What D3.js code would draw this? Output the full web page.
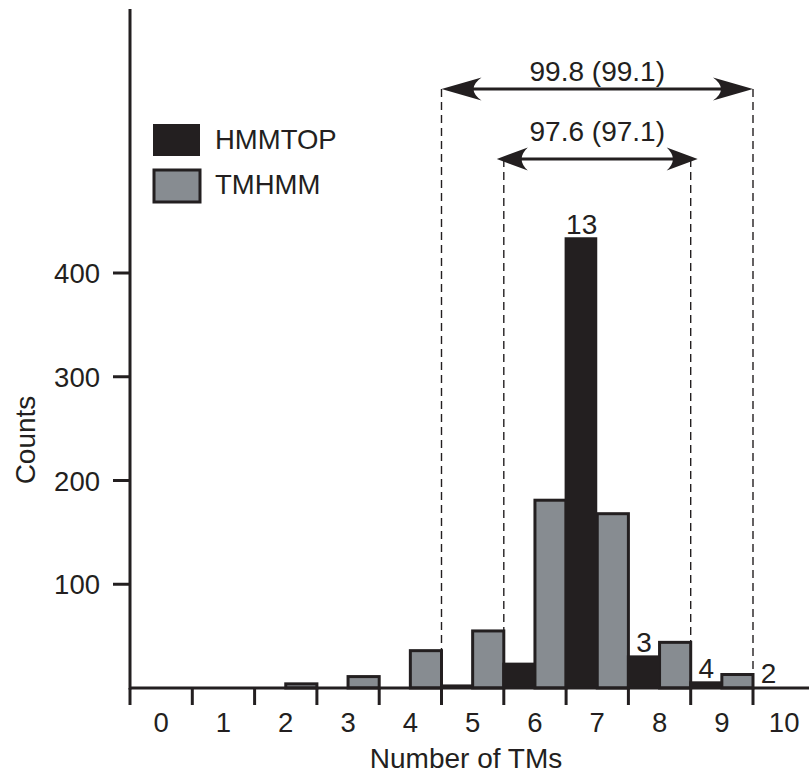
<!DOCTYPE html>
<html>
<head>
<meta charset="utf-8">
<script src="https://cdn.jsdelivr.net/npm/d3@7"></script>
<style>
  html, body { margin: 0; padding: 0; background: #ffffff; }
  svg { display: block; }
  text { font-family: "Liberation Sans", Arial, Helvetica, sans-serif; fill: #231f20; }
</style>
</head>
<body>
<svg id="chart" width="809" height="776"></svg>
<script>
// ---- Data ----
const tmNumbers = [0, 1, 2, 3, 4, 5, 6, 7, 8, 9, 10];
const hmmtopCounts = [0, 0, 0, 0, 0, 2, 23, 433, 30, 5, 0];
const tmhmmCounts = [0, 0, 4, 11, 36, 55, 181, 168, 44, 13, 0];
const yTickValues = [100, 200, 300, 400];
const barNoteTMs = [7, 8, 9, 10];
const barNoteTexts = ["13", "3", "4", "2"];
const rangeFrom = [5, 6];
const rangeTo = [10, 9];
const rangeTexts = ["99.8 (99.1)", "97.6 (97.1)"];
const seriesNames = ["HMMTOP", "TMHMM"];

// ---- Style ----
const ink = "#231f20";
const grayFill = "#878c91";
const fs = 27.5;

const svg = d3.select("#chart");
const x = d3.scaleLinear().domain([0, 11]).range([130, 815.3]);
const y = d3.scaleLinear().domain([0, 400]).range([688, 273]);

// dashed guide lines (drawn first, behind the bars)
const rangeY = [89, 159];
const rangeTextY = [81, 141];
const tipOffset = [0, 7];
const guides = svg.append("g");
rangeFrom.forEach((f, i) => {
  [f, rangeTo[i]].forEach(v => {
    guides.append("line")
      .attr("x1", x(v)).attr("x2", x(v))
      .attr("y1", rangeY[i]).attr("y2", y(0))
      .attr("stroke", ink).attr("stroke-width", 1.4)
      .attr("stroke-dasharray", "8,5");
  });
});

// bars
const bars = svg.append("g");
tmNumbers.forEach((n, i) => {
  if (tmhmmCounts[i] > 0) {
    bars.append("rect")
      .attr("x", x(n + 0.5)).attr("width", x(n + 1) - x(n + 0.5))
      .attr("y", y(tmhmmCounts[i])).attr("height", y(0) - y(tmhmmCounts[i]))
      .attr("fill", grayFill).attr("stroke", ink).attr("stroke-width", 3);
  }
});
tmNumbers.forEach((n, i) => {
  if (hmmtopCounts[i] > 0) {
    bars.append("rect")
      .attr("x", x(n) - 1.5).attr("width", x(n + 0.5) - x(n) + 1.5)
      .attr("y", y(hmmtopCounts[i]) - 1.5).attr("height", y(0) - y(hmmtopCounts[i]) + 1.5)
      .attr("fill", ink);
  }
});

// notes above HMMTOP bars
barNoteTMs.forEach((n, i) => {
  svg.append("text")
    .attr("x", x(n + 0.25)).attr("y", y(hmmtopCounts[n]) - 5)
    .attr("text-anchor", "middle").attr("font-size", 28)
    .text(barNoteTexts[i]);
});

// axes
const xAxisG = svg.append("g").attr("transform", `translate(0,${y(0)})`);
xAxisG.append("line").attr("x1", 130).attr("x2", 809).attr("stroke", ink).attr("stroke-width", 3);
d3.range(0, 11).forEach(k => {
  xAxisG.append("line").attr("x1", x(k)).attr("x2", x(k)).attr("y1", 0).attr("y2", 17)
    .attr("stroke", ink).attr("stroke-width", 3);
});
tmNumbers.forEach(n => {
  xAxisG.append("text").attr("x", x(n + 0.5)).attr("y", 44)
    .attr("text-anchor", "middle").attr("font-size", fs).text(n);
});
svg.append("text").attr("x", 466).attr("y", 768).attr("text-anchor", "middle")
  .attr("font-size", 28).text("Number of TMs");

const yAxisG = svg.append("g").attr("transform", "translate(130,0)");
yAxisG.append("line").attr("y1", 9).attr("y2", y(0) + 1.5).attr("stroke", ink).attr("stroke-width", 3);
yTickValues.forEach(v => {
  yAxisG.append("line").attr("x1", -17).attr("x2", 0).attr("y1", y(v)).attr("y2", y(v))
    .attr("stroke", ink).attr("stroke-width", 3);
  yAxisG.append("text").attr("x", -30).attr("y", y(v) + 10)
    .attr("text-anchor", "end").attr("font-size", fs).text(v);
});
svg.append("text").attr("transform", "translate(35,440) rotate(-90)")
  .attr("text-anchor", "middle").attr("font-size", 28).text("Counts");

// range arrows
function arrowHead(g, tipX, yy, dir, len, h) {
  const p = d3.path();
  p.moveTo(tipX, yy);
  p.lineTo(tipX + dir * len, yy - h / 2);
  p.quadraticCurveTo(tipX + dir * len * 0.6, yy, tipX + dir * len, yy + h / 2);
  p.closePath();
  g.append("path").attr("d", p.toString()).attr("fill", ink);
}
const arrowLen = [40, 31];
const arrows = svg.append("g");
rangeFrom.forEach((f, i) => {
  const x1 = x(f) - tipOffset[i], x2 = x(rangeTo[i]) + tipOffset[i];
  arrows.append("line").attr("x1", x1 + 10).attr("x2", x2 - 10)
    .attr("y1", rangeY[i]).attr("y2", rangeY[i])
    .attr("stroke", ink).attr("stroke-width", 3.2);
  arrowHead(arrows, x1, rangeY[i], 1, arrowLen[i], 23);
  arrowHead(arrows, x2, rangeY[i], -1, arrowLen[i], 23);
  arrows.append("text").attr("x", (x(f) + x(rangeTo[i])) / 2).attr("y", rangeTextY[i])
    .attr("text-anchor", "middle").attr("font-size", 28).text(rangeTexts[i]);
});

// legend
const legend = svg.append("g");
legend.append("rect").attr("x", 153).attr("y", 124).attr("width", 47).attr("height", 32).attr("fill", ink);
legend.append("rect").attr("x", 154).attr("y", 170).attr("width", 46).attr("height", 32)
  .attr("fill", grayFill).attr("stroke", ink).attr("stroke-width", 3);
legend.append("text").attr("x", 215).attr("y", 149).attr("font-size", 27.5).text(seriesNames[0]);
legend.append("text").attr("x", 215).attr("y", 194).attr("font-size", 27.5).text(seriesNames[1]);
</script>
</body>
</html>
